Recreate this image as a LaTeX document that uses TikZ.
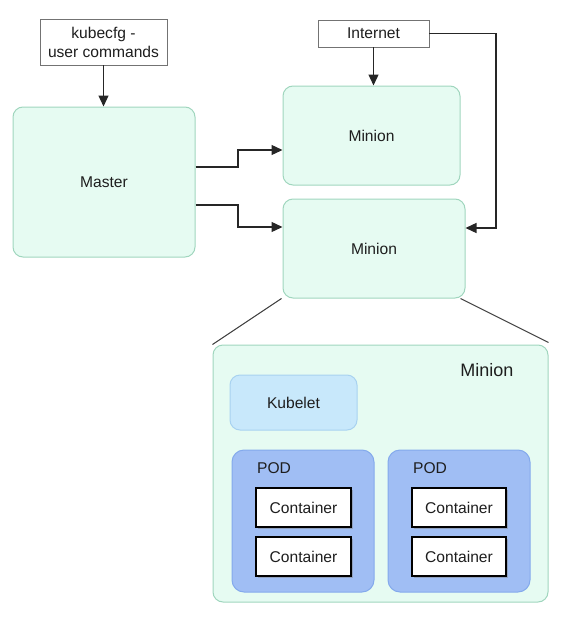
\documentclass[tikz,border=0pt]{standalone}
\usepackage{fontspec}
\setmainfont{Liberation Sans}
\usetikzlibrary{arrows.meta,shadows}
\definecolor{minfill}{RGB}{230,251,242}
\definecolor{minline}{RGB}{160,214,190}
\definecolor{kubfill}{RGB}{200,232,251}
\definecolor{kubline}{RGB}{168,210,240}
\definecolor{podfill}{RGB}{160,190,244}
\definecolor{podline}{RGB}{132,170,236}
\definecolor{txt}{RGB}{30,30,30}
\tikzset{
  base/.style={inner sep=0pt, text=txt, font=\fontsize{15.6}{19}\selectfont},
  labelbox/.style={base, draw=black!55, line width=0.9pt, fill=white, align=center},
  minionbox/.style={base, draw=minline, fill=minfill, line width=1pt, rounded corners=10pt},
  kubeletbox/.style={base, draw=kubline, fill=kubfill, line width=1pt, rounded corners=10pt},
  podbox/.style={base, draw=podline, fill=podfill, line width=1pt, rounded corners=12pt},
  contbox/.style={base, draw=black, fill=white, line width=1.4pt,
    drop shadow={shadow xshift=1.5pt, shadow yshift=-1.5pt, opacity=0.45}},
  arr/.style={line width=1.3pt, draw=black!85, -{Triangle[length=11pt,width=10pt]}},
  zoomline/.style={line width=1pt, draw=black!75},
}
\begin{document}
\begin{tikzpicture}[x=1pt,y=-1pt]
\useasboundingbox (0,0) rectangle (560,621);
% top part
\node[labelbox, minimum width=127pt, minimum height=46pt] (kube) at (103.5,42) {kubecfg -\\user commands};
\node[minionbox, minimum width=182pt, minimum height=150pt] (master) at (104,182) {Master};
\node[labelbox, minimum width=111pt, minimum height=27pt] (inet) at (373.5,33.5) {Internet};
\node[minionbox, minimum width=177pt, minimum height=99pt] (min1) at (371.5,135.5) {Minion};
\node[minionbox, minimum width=182pt, minimum height=99pt] (min2) at (374,248.5) {Minion};
% detail
\node[minionbox, minimum width=335pt, minimum height=257pt] (big) at (380.5,473.5) {};
\node[base, font=\fontsize{18}{20}\selectfont] (bigl) at (487,370) {Minion};
\node[kubeletbox, minimum width=127pt, minimum height=55pt] (kubelet) at (293.5,402.5) {Kubelet};
\node[podbox, minimum width=142pt, minimum height=142pt] (pod1) at (303,521) {};
\node[podbox, minimum width=142pt, minimum height=142pt] (pod2) at (459,521) {};
\node[base] (pod1l) at (274,468) {POD};
\node[base] (pod2l) at (430,468) {POD};
\node[contbox, minimum width=95pt, minimum height=39pt] (c11) at (303.5,507.5) {Container};
\node[contbox, minimum width=95pt, minimum height=39pt] (c12) at (303.5,556.5) {Container};
\node[contbox, minimum width=94pt, minimum height=39pt] (c21) at (459,507.5) {Container};
\node[contbox, minimum width=94pt, minimum height=39pt] (c22) at (459,556.5) {Container};
% connectors
\draw[arr] (kube.south) -- (kube.south |- master.north);
\draw[arr] (inet.south) -- (inet.south |- min1.north);
\draw[arr] (master.east |- 0,167) -- (238,167) |- (min1.west |- 0,150);
\draw[arr] (master.east |- 0,205) -- (238,205) |- (min2.west |- 0,227);
\coordinate (turn) at (496,228);
\draw[arr] (inet.east) -| (turn) -- (min2.east |- turn);
\draw[zoomline] ([xshift=-1pt]min2.south west) -- (big.north west);
\draw[zoomline] ([xshift=-5pt]min2.south east) -- ([yshift=2pt]big.north east);
\end{tikzpicture}
\end{document}
